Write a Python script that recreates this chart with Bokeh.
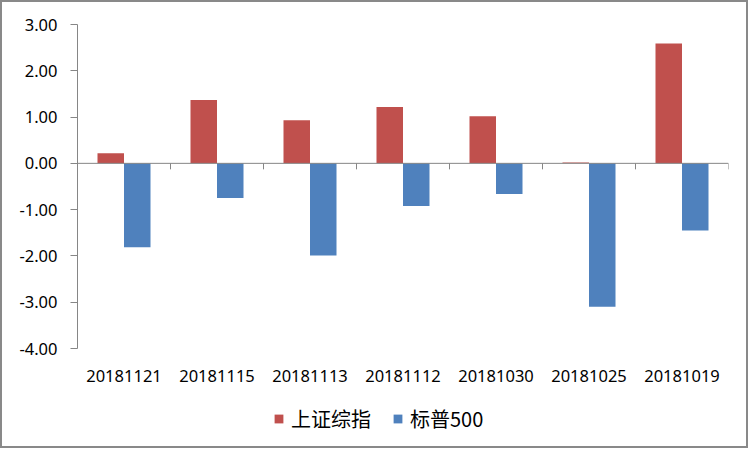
from bokeh.plotting import figure
from bokeh.models import (Range1d, LinearAxis, FixedTicker, ColumnDataSource,
                          Legend, LegendItem, NumeralTickFormatter, Span)
from bokeh.core.properties import value
from bokeh.transform import dodge
from bokeh.embed import file_html
from bokeh.resources import INLINE

dates = ["20181121", "20181115", "20181113", "20181112", "20181030", "20181025", "20181019"]
shanghai = [0.22, 1.37, 0.93, 1.22, 1.02, 0.02, 2.59]
sp500 = [-1.81, -0.75, -1.99, -0.92, -0.66, -3.10, -1.45]
series_names = ["上证综指", "标普500"]
y_ticks = [-4, -3, -2, -1, 0, 1, 2, 3]

RED = "#C0504D"
BLUE = "#4F81BD"
GRAY = "#868686"
FONT = "Noto Sans"

W, H = 748, 448
TOP, BOTTOM, LEFT, RIGHT = 22, 2, 75, 22
AXIS_PX = 324  # pixel height of the value axis (-4 .. 3)
n = len(dates)
pos = [i + 0.5 for i in range(n)]
src = ColumnDataSource(dict(x=pos, sh=shanghai, sp=sp500, lab=dates, ylab=[min(y_ticks)] * n))

ymin, ymax = min(y_ticks), max(y_ticks)
px_per_unit = AXIS_PX / (ymax - ymin)
frame_h = H - TOP - BOTTOM
y_start = ymax - frame_h / px_per_unit

p = figure(width=W, height=H, x_range=Range1d(0, n), y_range=Range1d(y_start, ymax),
           output_backend="svg", toolbar_location=None,
           x_axis_location=None, y_axis_location=None,
           min_border_left=LEFT, min_border_right=RIGHT, min_border_top=TOP, min_border_bottom=BOTTOM)
p.styles = {"border": "2px solid #898989"}
p.outline_line_color = None
p.xgrid.visible = False
p.ygrid.visible = False
p.background_fill_color = "white"
p.border_fill_color = "white"

bw = 0.285
r1 = p.vbar(x=dodge('x', -bw / 2), top='sh', bottom=0, width=bw, source=src,
            fill_color=RED, line_color=None)
r2 = p.vbar(x=dodge('x', bw / 2), top='sp', bottom=0, width=bw, source=src,
            fill_color=BLUE, line_color=None)

yaxis = LinearAxis(ticker=FixedTicker(ticks=y_ticks), formatter=NumeralTickFormatter(format="0.00"),
                   bounds=(ymin, ymax))
yaxis.axis_line_color = GRAY
yaxis.major_tick_line_color = GRAY
yaxis.minor_tick_line_color = None
yaxis.major_tick_out = 7
yaxis.major_tick_in = 0
yaxis.major_label_standoff = 13
yaxis.major_label_text_font = FONT
yaxis.major_label_text_font_size = "16.5px"
yaxis.major_label_text_color = "black"
p.add_layout(yaxis, "left")

# zero line with category-boundary tick marks
p.add_layout(Span(location=0, dimension="width", line_color=GRAY, line_width=1))
tick_len = 6 / px_per_unit
bounds = list(range(n + 1))
p.segment(x0=bounds, x1=bounds, y0=[0] * len(bounds), y1=[-tick_len] * len(bounds),
          line_color=GRAY, line_width=1)

# category labels below the value axis
p.text(x='x', y='ylab', text='lab', source=src, y_offset=27,
       text_align="center", text_baseline="middle",
       text_font=value(FONT), text_font_size="16.5px", text_color="black")

legend = Legend(items=[LegendItem(label=series_names[0], renderers=[r1]),
                       LegendItem(label=series_names[1], renderers=[r2])],
                orientation="horizontal", location=(196, 15),
                padding=0, margin=0, spacing=21, label_standoff=7,
                glyph_width=11, glyph_height=11,
                label_text_font="Noto Sans CJK SC", label_text_font_size="20px",
                label_text_color="black",
                border_line_color=None, background_fill_alpha=0)
p.add_layout(legend, "center")

open("out.html", "w").write(file_html(p, INLINE))
